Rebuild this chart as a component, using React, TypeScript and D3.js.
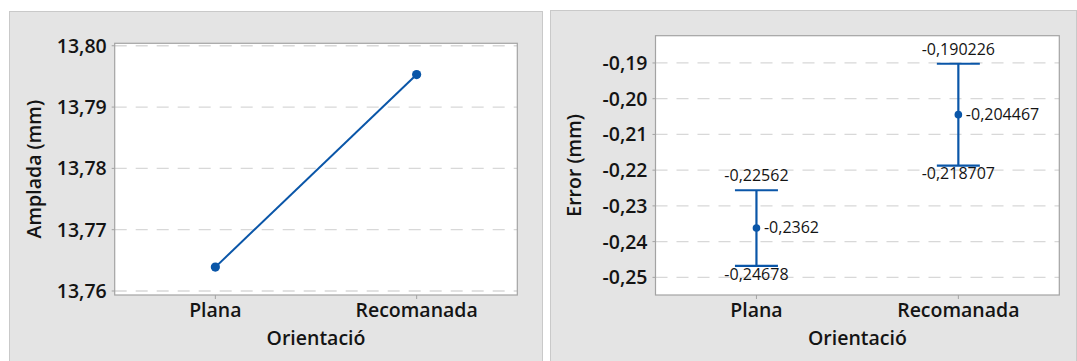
import React from "react";
import * as d3 from "d3";

const categories = ["Plana", "Recomanada"];
const ampladaMeans = [13.7639, 13.7953];
const ampladaTicks = [13.76, 13.77, 13.78, 13.79, 13.8];
const ampladaDomain = [13.75935, 13.8004];

const errorMeans = [-0.2362, -0.204467];
const errorUpper = [-0.22562, -0.190226];
const errorLower = [-0.24678, -0.218707];
const errorTicks = [-0.25, -0.24, -0.23, -0.22, -0.21, -0.2, -0.19];
const errorDomain = [-0.25494, -0.18237];

const FONT = "'Open Sans', 'Noto Sans', sans-serif";
const BLUE = "#0a56a8";
const GRID = "#d8d8d8";
const PANEL = "#e4e4e4";
const PANEL_BORDER = "#c9c9c9";
const PLOT_BORDER = "#a3a3a3";
const TEXT = "#141414";
const AXIS_FS = 19.5;
const AXIS_FW = 600;

const fmtTick = (v: number) => v.toFixed(2).replace(".", ",");
const fmtVal = (v: number) => String(v).replace(".", ",");

function Panel({ x0, x1, y0 }: { x0: number; x1: number; y0: number }) {
  return (
    <rect x={x0 + 0.5} y={y0 + 0.5} width={x1 - x0} height={400} fill={PANEL} stroke={PANEL_BORDER} strokeWidth={1} />
  );
}

function Axes({
  x,
  y,
  ticks,
  left,
  right,
  top,
  bottom,
  yTitle,
  yTitleX,
}: {
  x: d3.ScalePoint<string>;
  y: d3.ScaleLinear<number, number>;
  ticks: number[];
  left: number;
  right: number;
  top: number;
  bottom: number;
  yTitle: string;
  yTitleX: number;
}) {
  const cx = (left + right) / 2;
  const cy = (top + bottom) / 2;
  return (
    <g>
      <rect x={left} y={top} width={right - left} height={bottom - top} fill="#fff" />
      {ticks.map((t) => (
        <g key={t}>
          <line x1={left} x2={right} y1={y(t)} y2={y(t)} stroke={GRID} strokeWidth={1.3} strokeDasharray="12,9" />
          <line x1={left - 3} x2={left} y1={y(t)} y2={y(t)} stroke={PLOT_BORDER} />
          <text x={left - 8} y={y(t)} dy="0.36em" textAnchor="end" fontSize={AXIS_FS} fontWeight={AXIS_FW} fontFamily={FONT} fill={TEXT}>
            {fmtTick(t)}
          </text>
        </g>
      ))}
      <rect x={left} y={top} width={right - left} height={bottom - top} fill="none" stroke={PLOT_BORDER} strokeWidth={1.2} />
      {categories.map((c) => (
        <g key={c}>
          <line x1={x(c)} x2={x(c)} y1={bottom} y2={bottom + 4} stroke={PLOT_BORDER} />
          <text x={x(c)} y={316.7} textAnchor="middle" fontSize={AXIS_FS} fontWeight={AXIS_FW} fontFamily={FONT} fill={TEXT}>
            {c}
          </text>
        </g>
      ))}
      <text x={cx} y={345} textAnchor="middle" fontSize={AXIS_FS} fontWeight={AXIS_FW} fontFamily={FONT} fill={TEXT}>
        Orientació
      </text>
      <text
        transform={`translate(${yTitleX},${cy}) rotate(-90)`}
        dy="0.36em"
        textAnchor="middle"
        fontSize={AXIS_FS}
        fontWeight={AXIS_FW}
        fontFamily={FONT}
        fill={TEXT}
      >
        {yTitle}
      </text>
    </g>
  );
}

export default function App() {
  // Left chart
  const L = { left: 114.7, right: 517.3, top: 43.3, bottom: 295 };
  const xL = d3.scalePoint<string>().domain(categories).range([L.left, L.right]).padding(0.5);
  const yL = d3.scaleLinear().domain(ampladaDomain).range([L.bottom, L.top]);
  const line = d3
    .line<number>()
    .x((_, i) => xL(categories[i]) as number)
    .y((d) => yL(d));

  // Right chart
  const R = { left: 655.5, right: 1059.3, top: 35.7, bottom: 295 };
  const xR = d3.scalePoint<string>().domain(categories).range([R.left, R.right]).padding(0.5);
  const yR = d3.scaleLinear().domain(errorDomain).range([R.bottom, R.top]);
  const capHalf = 21.5;

  return (
    <svg
      width={1077}
      height={361}
      style={{ position: "absolute", left: 0, top: 0, background: "#fff" }}
    >
      <Panel x0={9} x1={542} y0={11} />
      <Panel x0={550} x1={1076} y0={10} />

      <Axes x={xL} y={yL} ticks={ampladaTicks} {...L} yTitle="Amplada (mm)" yTitleX={34.4} />
      <path d={line(ampladaMeans) || ""} fill="none" stroke={BLUE} strokeWidth={2} />
      {ampladaMeans.map((v, i) => (
        <circle key={i} cx={xL(categories[i])} cy={yL(v)} r={4.6} fill={BLUE} />
      ))}

      <Axes x={xR} y={yR} ticks={errorTicks} {...R} yTitle="Error (mm)" yTitleX={574} />
      {categories.map((c, i) => {
        const cx = xR(c) as number;
        const yu = yR(errorUpper[i]);
        const yl = yR(errorLower[i]);
        const ym = yR(errorMeans[i]);
        return (
          <g key={c}>
            <line x1={cx} x2={cx} y1={yu} y2={yl} stroke={BLUE} strokeWidth={2.2} />
            <line x1={cx - capHalf} x2={cx + capHalf} y1={yu} y2={yu} stroke={BLUE} strokeWidth={2.2} />
            <line x1={cx - capHalf} x2={cx + capHalf} y1={yl} y2={yl} stroke={BLUE} strokeWidth={2.2} />
            <circle cx={cx} cy={ym} r={3.8} fill={BLUE} />
            <text x={cx} y={yu - 9} textAnchor="middle" fontSize={16} fontFamily={FONT} fill={TEXT}>
              {fmtVal(errorUpper[i])}
            </text>
            <text x={cx} y={yl + 13.8} textAnchor="middle" fontSize={16} fontFamily={FONT} fill={TEXT}>
              {fmtVal(errorLower[i])}
            </text>
            <text x={cx + 7.5} y={ym} dy="0.34em" textAnchor="start" fontSize={16} fontFamily={FONT} fill={TEXT}>
              {fmtVal(errorMeans[i])}
            </text>
          </g>
        );
      })}
    </svg>
  );
}
